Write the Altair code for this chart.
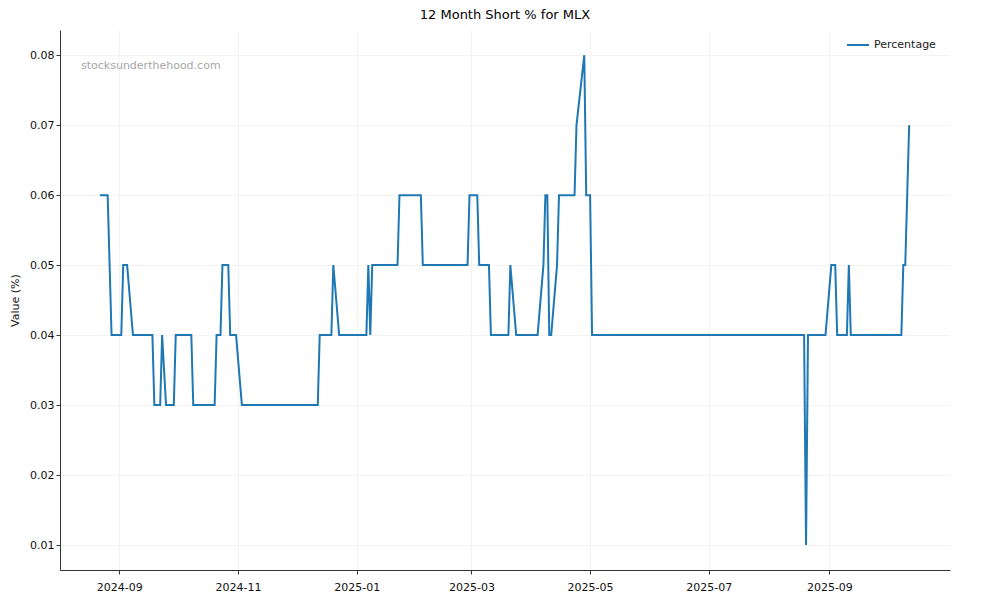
import altair as alt
import pandas as pd

dates = [
    "2024-08-22", "2024-08-26", "2024-08-28", "2024-09-02", "2024-09-03", "2024-09-05",
    "2024-09-08", "2024-09-18", "2024-09-19", "2024-09-22", "2024-09-23", "2024-09-25",
    "2024-09-29", "2024-09-30", "2024-10-08", "2024-10-09", "2024-10-20", "2024-10-21",
    "2024-10-23", "2024-10-24", "2024-10-27", "2024-10-28", "2024-10-31", "2024-11-03",
    "2024-12-12", "2024-12-13", "2024-12-19", "2024-12-20", "2024-12-23", "2025-01-06",
    "2025-01-07", "2025-01-08", "2025-01-09", "2025-01-22", "2025-01-23", "2025-02-03",
    "2025-02-04", "2025-02-27", "2025-02-28", "2025-03-04", "2025-03-05", "2025-03-10",
    "2025-03-11", "2025-03-20", "2025-03-21", "2025-03-24", "2025-04-04", "2025-04-07",
    "2025-04-08", "2025-04-09", "2025-04-10", "2025-04-11", "2025-04-14", "2025-04-15",
    "2025-04-23", "2025-04-24", "2025-04-28", "2025-04-29", "2025-05-01", "2025-05-02",
    "2025-08-19", "2025-08-20", "2025-08-21", "2025-08-30", "2025-09-02", "2025-09-04",
    "2025-09-05", "2025-09-10", "2025-09-11", "2025-09-12", "2025-10-08", "2025-10-09",
    "2025-10-10", "2025-10-12",
]
values = [
    0.06, 0.06, 0.04, 0.04, 0.05, 0.05,
    0.04, 0.04, 0.03, 0.03, 0.04, 0.03,
    0.03, 0.04, 0.04, 0.03, 0.03, 0.04,
    0.04, 0.05, 0.05, 0.04, 0.04, 0.03,
    0.03, 0.04, 0.04, 0.05, 0.04, 0.04,
    0.05, 0.04, 0.05, 0.05, 0.06, 0.06,
    0.05, 0.05, 0.06, 0.06, 0.05, 0.05,
    0.04, 0.04, 0.05, 0.04, 0.04, 0.05,
    0.06, 0.06, 0.04, 0.04, 0.05, 0.06,
    0.06, 0.07, 0.08, 0.06, 0.06, 0.04,
    0.04, 0.01, 0.04, 0.04, 0.05, 0.05,
    0.04, 0.04, 0.05, 0.04, 0.04, 0.05,
    0.05, 0.07,
]
x_ticks = ["2024-09", "2024-11", "2025-01", "2025-03", "2025-05", "2025-07", "2025-09"]
y_ticks = [0.01, 0.02, 0.03, 0.04, 0.05, 0.06, 0.07, 0.08]

df = pd.DataFrame({
    "date": [d + "T00:00:00" for d in dates],
    "value": values,
    "series": "Percentage",
})

tick_vals = [alt.DateTime(year=int(t[:4]), month=int(t[5:]), date=1) for t in x_ticks]

FONT = "DejaVu Sans"

line = alt.Chart(df).mark_line(strokeWidth=2, interpolate="linear").encode(
    x=alt.X(
        "date:T",
        scale=alt.Scale(domain=[alt.DateTime(year=2024, month=8, date=1, hours=12),
                                alt.DateTime(year=2025, month=11, date=2, hours=0)]),
        axis=alt.Axis(values=tick_vals, format="%Y-%m", title=None, grid=True,
                      labelFlush=False),
    ),
    y=alt.Y(
        "value:Q",
        scale=alt.Scale(domain=[0.00643, 0.0836], nice=False, zero=False),
        axis=alt.Axis(values=y_ticks, format=".2f", title="Value (%)", grid=True),
    ),
    color=alt.Color(
        "series:N",
        scale=alt.Scale(domain=["Percentage"], range=["#1f77b4"]),
        legend=alt.Legend(title=None, orient="none", legendX=782, legendY=-1,
                          symbolType="stroke", symbolSize=484, symbolStrokeWidth=2,
                          labelFontSize=11, labelFont=FONT, labelColor="#222222",
                          padding=4),
    ),
)

watermark = alt.Chart(pd.DataFrame({"t": ["stocksunderthehood.com"]})).mark_text(
    align="left", baseline="middle", fontSize=11, font=FONT, color="#a6a6a6"
).encode(text="t:N", x=alt.value(21), y=alt.value(36))

chart = alt.layer(line, watermark).properties(
    width=890,
    height=540,
    title=alt.TitleParams("12 Month Short % for MLX", fontSize=13, font=FONT,
                          fontWeight="normal", color="#000000", offset=7),
    autosize=alt.AutoSizeParams(type="none"),
    padding={"left": 52, "top": 22, "right": 40, "bottom": 22},
).configure_view(stroke=None).configure_axis(
    labelFont=FONT, labelFontSize=11, labelColor="#111111",
    titleFont=FONT, titleFontSize=11, titleFontWeight="normal", titleColor="#111111",
    domainColor="#333333", tickColor="#333333", tickSize=4,
    gridColor="#f0f0f0", gridWidth=0.8,
).configure_axisY(titlePadding=9).configure_axisX(labelPadding=7)

chart.save("out.html", embed_options={"renderer": "svg", "actions": False})
